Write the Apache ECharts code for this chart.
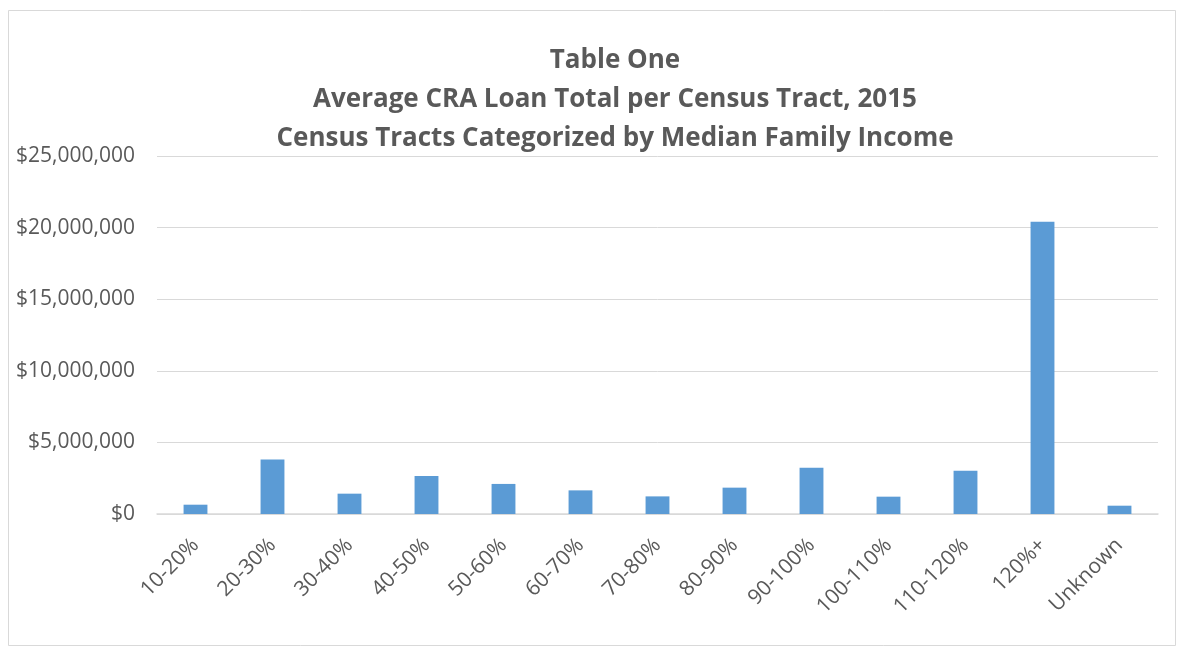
<!DOCTYPE html>
<html>
<head>
<meta charset="utf-8">
<script src="https://cdn.jsdelivr.net/npm/echarts@6/dist/echarts.min.js"></script>
<style>
  html, body { margin: 0; padding: 0; background: #fff; }
  #main { width: 1184px; height: 648px; }
</style>
</head>
<body>
<div id="main"></div>
<script>
var categories = ['10-20%', '20-30%', '30-40%', '40-50%', '50-60%', '60-70%', '70-80%',
  '80-90%', '90-100%', '100-110%', '110-120%', '120%+', 'Unknown'];
var loanTotals = [650000, 3810000, 1420000, 2650000, 2100000, 1650000, 1230000,
  1840000, 3230000, 1210000, 3020000, 20400000, 580000];
var titleLines = ['Table One', 'Average CRA Loan Total per Census Tract, 2015',
  'Census Tracts Categorized by Median Family Income'];

var myChart = echarts.init(document.getElementById('main'));
var fontName = 'Open Sans';

function money(v) {
  return '$' + v.toString().replace(/\B(?=(\d{3})+(?!\d))/g, ',');
}

var option = {
  backgroundColor: '#fff',
  animation: false,
  title: {
    text: titleLines.join('\n'),
    left: 610,
    top: 36,
    textAlign: 'center',
    textStyle: {
      fontFamily: fontName,
      fontSize: 26,
      fontWeight: 'bold',
      color: '#595959',
      lineHeight: 39
    }
  },
  graphic: [{
    type: 'rect',
    shape: { x: 8.5, y: 10.5, width: 1167, height: 635 },
    style: { fill: 'none', stroke: '#d9d9d9', lineWidth: 1 },
    silent: true
  }],
  grid: { left: 157, right: 26, top: 156, bottom: 134 },
  xAxis: {
    type: 'category',
    data: categories,
    axisLine: { lineStyle: { color: '#d9d9d9', width: 1.5 } },
    axisTick: { show: false },
    axisLabel: {
      rotate: 45,
      interval: 0,
      margin: 28,
      fontFamily: fontName,
      fontSize: 21,
      color: '#595959'
    }
  },
  yAxis: {
    type: 'value',
    min: 0,
    max: 25000000,
    interval: 5000000,
    axisLine: { show: false },
    axisTick: { show: false },
    splitLine: { lineStyle: { color: '#d9d9d9', width: 1 } },
    axisLabel: {
      margin: 22,
      fontFamily: fontName,
      fontSize: 21,
      color: '#595959',
      formatter: money
    }
  },
  series: [{
    type: 'bar',
    data: loanTotals,
    barWidth: '31%',
    itemStyle: { color: '#5b9bd5' }
  }]
};

myChart.setOption(option);
</script>
</body>
</html>
